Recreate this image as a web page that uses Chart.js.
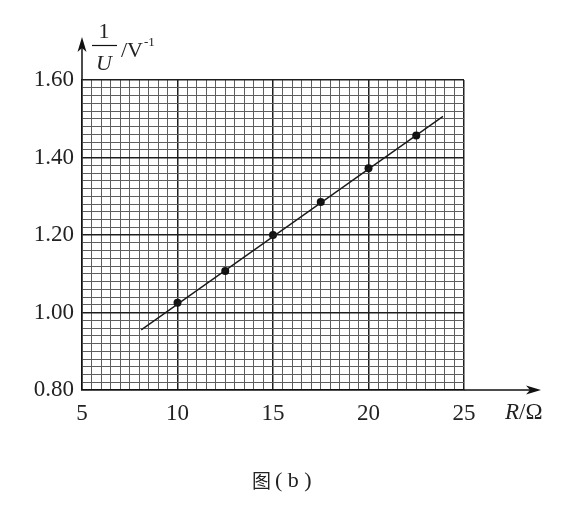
<!DOCTYPE html>
<html>
<head>
<meta charset="utf-8">
<script src="https://cdn.jsdelivr.net/npm/chart.js@4"></script>
<style>
  html, body { margin: 0; padding: 0; background: #fff; }
</style>
</head>
<body>
<canvas id="grafico" width="580" height="523"></canvas>
<script>
// datos
const resistencias = [10, 12.5, 15, 17.5, 20, 22.5];
const inversoU = [1.025, 1.107, 1.20, 1.285, 1.372, 1.457];
// recta ajustada (extremos)
const rectaR = [8.1, 23.9];
const rectaInv = [0.955, 1.506];

const xMin = 5, xMax = 25, xPaso = 0.5;
const yMin = 0.8, yMax = 1.6, yPaso = 0.02;

const serif = '"Liberation Serif", "DejaVu Serif", serif';

function esMayorX(v) { return Math.round(v * 2) % 10 === 0; }
function esMayorY(v) { return Math.round(v * 100) % 20 === 0; }

// flechas de los ejes y rotulos
const ejesPlugin = {
    id: 'ejes',
    afterDraw(chart) {
        const { ctx, chartArea: a } = chart;
        ctx.save();
        ctx.strokeStyle = '#111';
        ctx.fillStyle = '#111';
        ctx.lineWidth = 1.5;

        // eje vertical
        ctx.beginPath();
        ctx.moveTo(a.left, a.top);
        ctx.lineTo(a.left, 46);
        ctx.stroke();
        ctx.beginPath();
        ctx.moveTo(a.left, 37);
        ctx.lineTo(a.left - 4.5, 52);
        ctx.lineTo(a.left, 48);
        ctx.lineTo(a.left + 4.5, 52);
        ctx.closePath();
        ctx.fill();

        // eje horizontal
        ctx.beginPath();
        ctx.moveTo(a.right, a.bottom);
        ctx.lineTo(532, a.bottom);
        ctx.stroke();
        ctx.beginPath();
        ctx.moveTo(541, a.bottom);
        ctx.lineTo(526, a.bottom - 4.5);
        ctx.lineTo(530, a.bottom);
        ctx.lineTo(526, a.bottom + 4.5);
        ctx.closePath();
        ctx.fill();

        // titulo eje y: 1/U /V^-1
        ctx.fillStyle = '#222';
        ctx.textBaseline = 'alphabetic';
        ctx.textAlign = 'center';
        ctx.font = '22px ' + serif;
        ctx.fillText('1', 104, 38);
        ctx.lineWidth = 1.2;
        ctx.beginPath();
        ctx.moveTo(92, 45.5);
        ctx.lineTo(117, 45.5);
        ctx.stroke();
        ctx.font = 'italic 22px ' + serif;
        ctx.fillText('U', 104, 70);
        ctx.textAlign = 'left';
        ctx.font = '22px ' + serif;
        ctx.fillText('/V', 121, 57);
        ctx.font = '13px ' + serif;
        ctx.fillText('-1', 144, 46);

        // titulo eje x: R/Ω
        ctx.font = 'italic 23px ' + serif;
        ctx.fillText('R', 505, 419);
        const wR = ctx.measureText('R').width;
        ctx.font = '23px ' + serif;
        ctx.fillText('/Ω', 505 + wR, 419);

        // pie de figura
        ctx.font = '19px "Noto Sans CJK SC", sans-serif';
        ctx.fillText('图', 252, 488);
        ctx.font = '22px ' + serif;
        ctx.fillText('( b )', 275, 487);
        ctx.restore();
    }
};

const ctx = document.getElementById('grafico').getContext('2d');
new Chart(ctx, {
    type: 'scatter',
    data: {
        datasets: [
            {
                label: 'recta',
                data: rectaR.map((r, i) => ({ x: r, y: rectaInv[i] })),
                showLine: true,
                borderColor: '#1a1a1a',
                borderWidth: 1.4,
                pointRadius: 0,
                fill: false
            },
            {
                label: 'medidas',
                data: resistencias.map((r, i) => ({ x: r, y: inversoU[i] })),
                backgroundColor: '#111',
                borderColor: '#111',
                pointRadius: 4,
                pointBorderWidth: 0
            }
        ]
    },
    options: {
        responsive: false,
        animation: false,
        devicePixelRatio: 1,
        layout: { padding: { top: 80, right: 116, bottom: 83, left: 0 } },
        plugins: {
            legend: { display: false },
            tooltip: { enabled: false }
        },
        scales: {
            x: {
                type: 'linear',
                min: xMin,
                max: xMax,
                afterFit: s => { s.height = 50; },
                ticks: {
                    stepSize: xPaso,
                    autoSkip: false,
                    maxRotation: 0,
                    padding: 10,
                    color: '#222',
                    font: { family: serif, size: 23 },
                    callback: v => esMayorX(v) ? String(Math.round(v)) : ''
                },
                grid: {
                    drawTicks: false,
                    color: c => esMayorX(c.tick.value) ? '#1e1e1e' : '#5e5e5e',
                    lineWidth: c => esMayorX(c.tick.value) ? 1.5 : 1
                },
                border: { display: true, color: '#111', width: 1.5 }
            },
            y: {
                type: 'linear',
                min: yMin,
                max: yMax,
                afterFit: s => { s.width = 82; },
                ticks: {
                    stepSize: yPaso,
                    autoSkip: false,
                    padding: 8,
                    color: '#222',
                    font: { family: serif, size: 23 },
                    callback: v => esMayorY(v) ? v.toFixed(2) : ''
                },
                grid: {
                    drawTicks: false,
                    color: c => esMayorY(c.tick.value) ? '#1e1e1e' : '#5e5e5e',
                    lineWidth: c => esMayorY(c.tick.value) ? 1.5 : 1
                },
                border: { display: true, color: '#111', width: 1.5 }
            }
        }
    },
    plugins: [ejesPlugin]
});
</script>
</body>
</html>
